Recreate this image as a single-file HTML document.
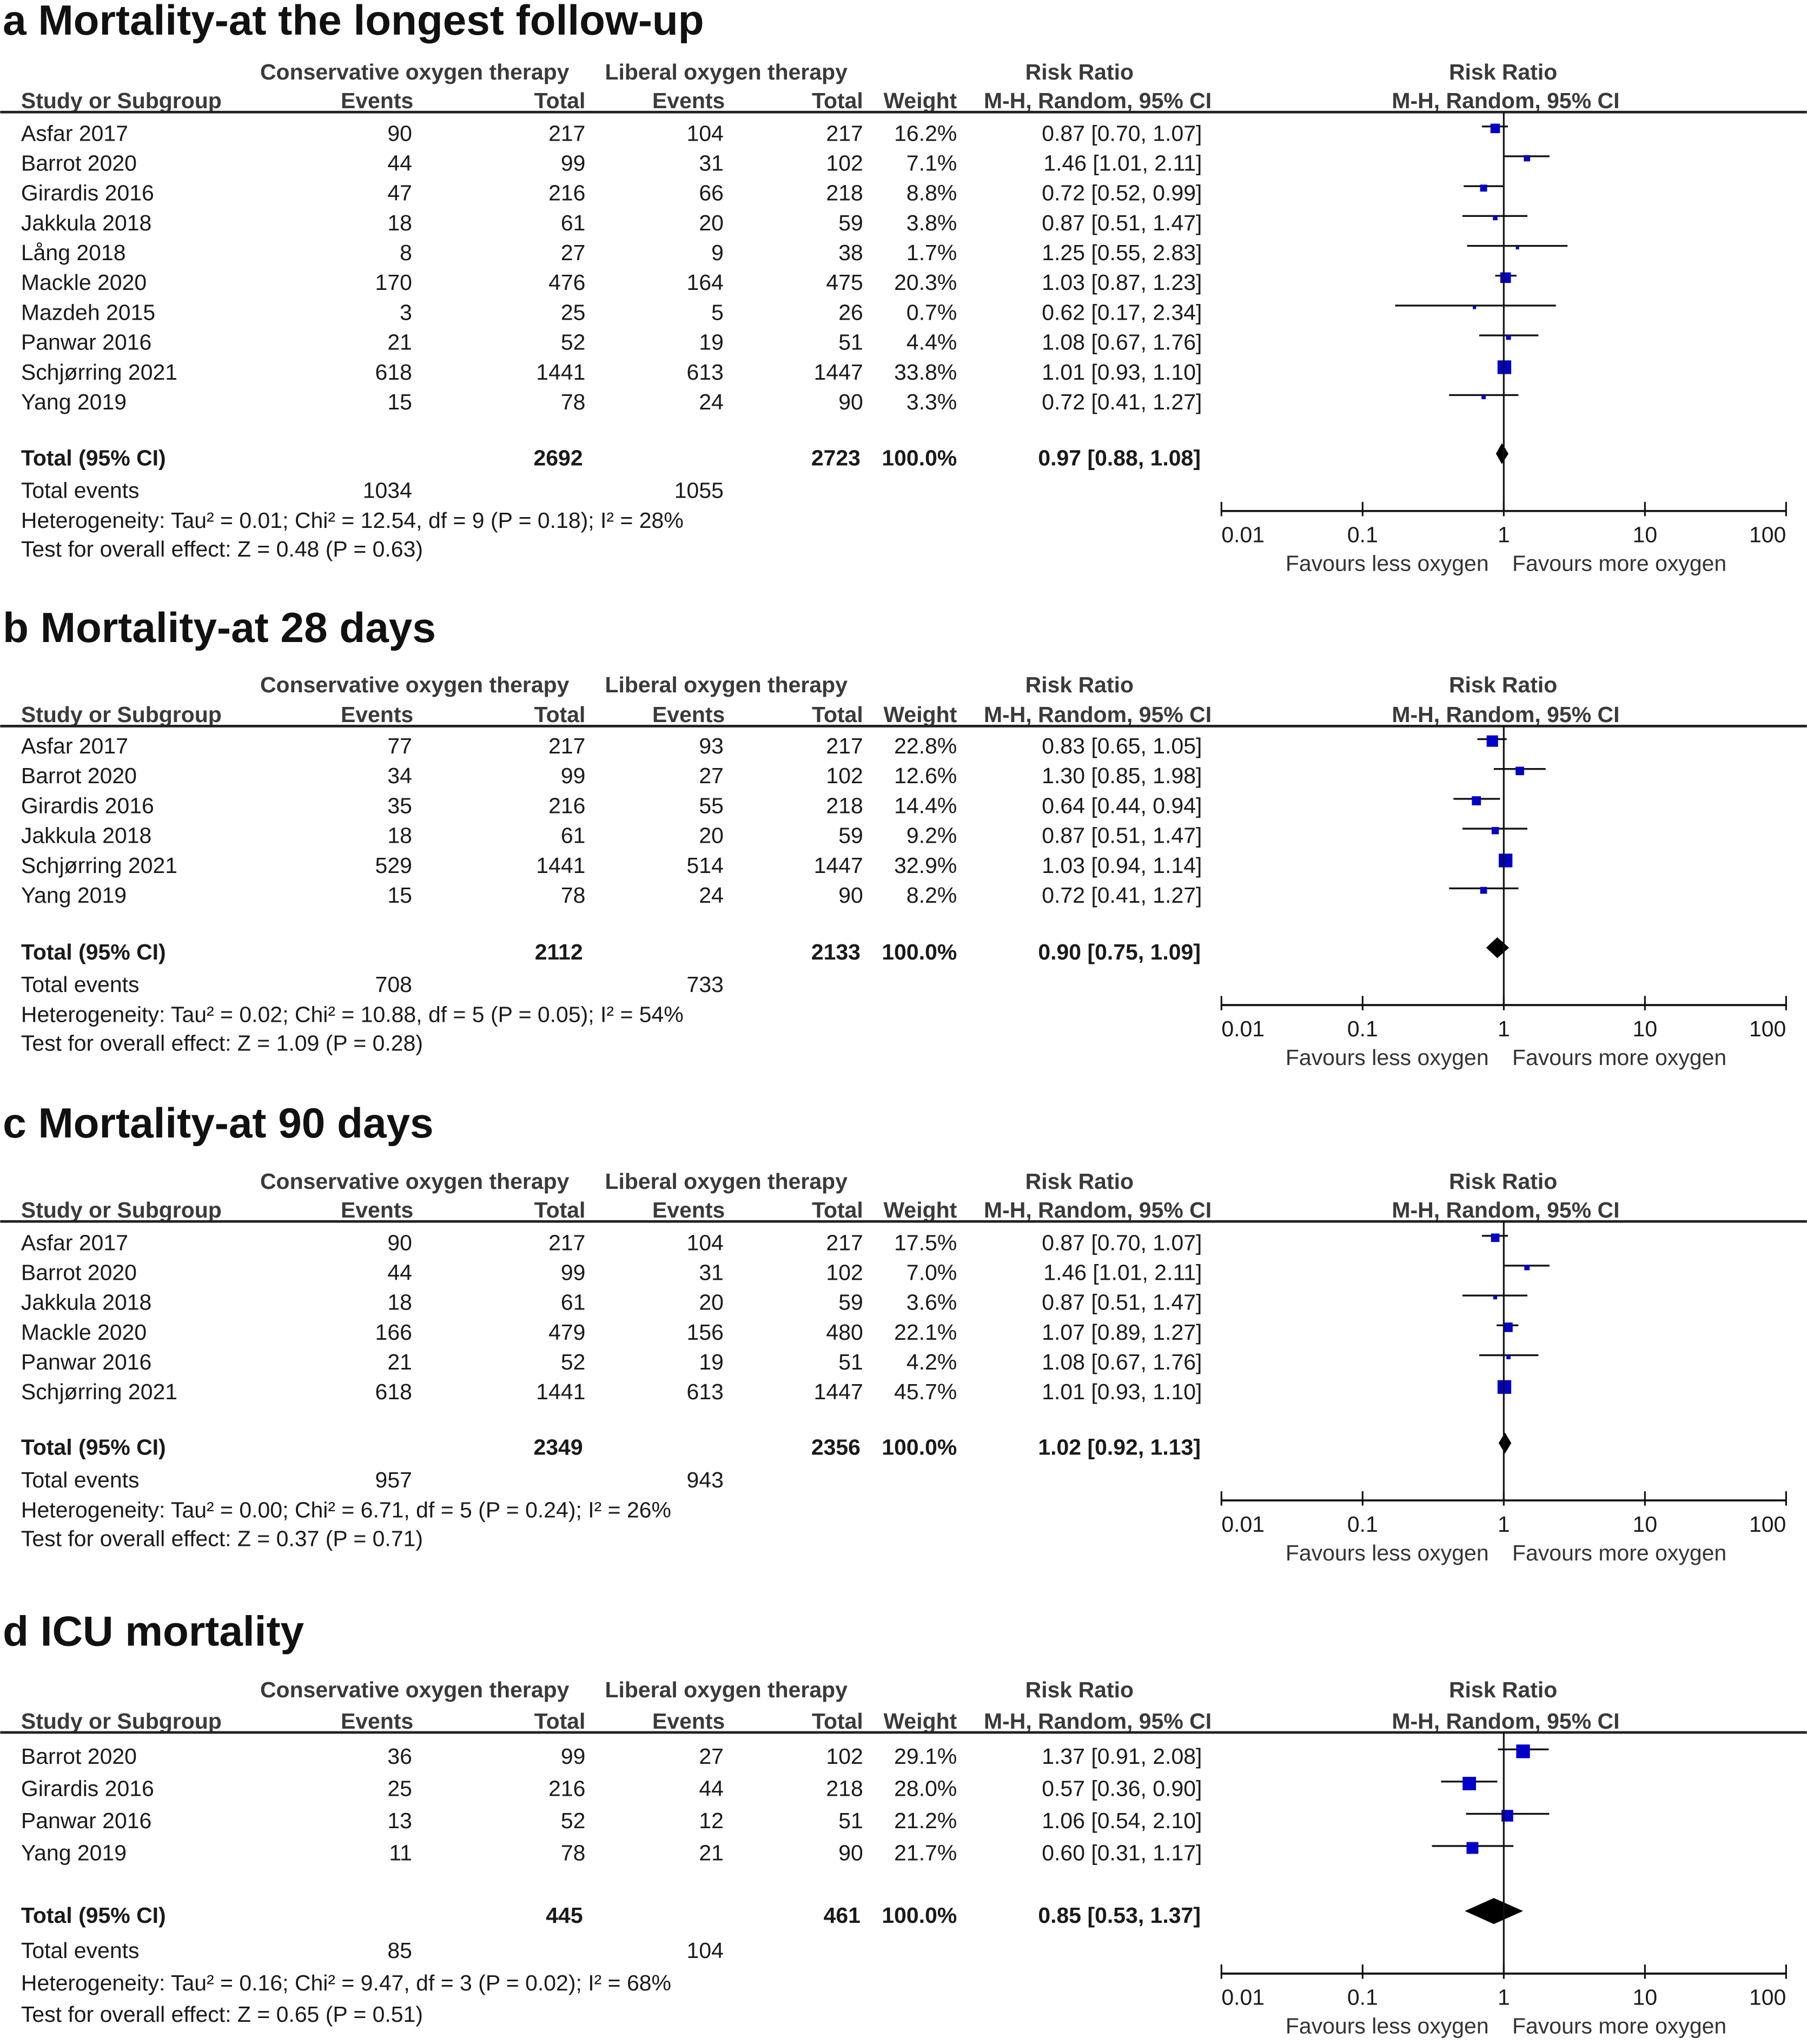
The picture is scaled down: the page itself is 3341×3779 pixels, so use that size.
<!DOCTYPE html>
<html><head><meta charset="utf-8"><style>
html,body{margin:0;padding:0;background:#fff;}
svg{display:block;font-family:"Liberation Sans",Arial,sans-serif;}
</style></head><body>
<svg id="chart" xmlns="http://www.w3.org/2000/svg" width="3341" height="3779" viewBox="0 0 1386 1568"></svg>
<script>
// ---- Panel a data ----
const aStudies=["Asfar 2017","Barrot 2020","Girardis 2016","Jakkula 2018","Lång 2018","Mackle 2020","Mazdeh 2015","Panwar 2016","Schjørring 2021","Yang 2019"];
const aConsEvents=[90,44,47,18,8,170,3,21,618,15];
const aConsTotal=[217,99,216,61,27,476,25,52,1441,78];
const aLibEvents=[104,31,66,20,9,164,5,19,613,24];
const aLibTotal=[217,102,218,59,38,475,26,51,1447,90];
const aWeight=[16.2,7.1,8.8,3.8,1.7,20.3,0.7,4.4,33.8,3.3];
const aRR=[0.87,1.46,0.72,0.87,1.25,1.03,0.62,1.08,1.01,0.72];
const aLo=[0.70,1.01,0.52,0.51,0.55,0.87,0.17,0.67,0.93,0.41];
const aHi=[1.07,2.11,0.99,1.47,2.83,1.23,2.34,1.76,1.10,1.27];
const aTotal=[2692,2723,0.97,0.88,1.08,1034,1055];
// ---- Panel b data ----
const bStudies=["Asfar 2017","Barrot 2020","Girardis 2016","Jakkula 2018","Schjørring 2021","Yang 2019"];
const bConsEvents=[77,34,35,18,529,15];
const bConsTotal=[217,99,216,61,1441,78];
const bLibEvents=[93,27,55,20,514,24];
const bLibTotal=[217,102,218,59,1447,90];
const bWeight=[22.8,12.6,14.4,9.2,32.9,8.2];
const bRR=[0.83,1.30,0.64,0.87,1.03,0.72];
const bLo=[0.65,0.85,0.44,0.51,0.94,0.41];
const bHi=[1.05,1.98,0.94,1.47,1.14,1.27];
const bTotal=[2112,2133,0.90,0.75,1.09,708,733];
// ---- Panel c data ----
const cStudies=["Asfar 2017","Barrot 2020","Jakkula 2018","Mackle 2020","Panwar 2016","Schjørring 2021"];
const cConsEvents=[90,44,18,166,21,618];
const cConsTotal=[217,99,61,479,52,1441];
const cLibEvents=[104,31,20,156,19,613];
const cLibTotal=[217,102,59,480,51,1447];
const cWeight=[17.5,7.0,3.6,22.1,4.2,45.7];
const cRR=[0.87,1.46,0.87,1.07,1.08,1.01];
const cLo=[0.70,1.01,0.51,0.89,0.67,0.93];
const cHi=[1.07,2.11,1.47,1.27,1.76,1.10];
const cTotal=[2349,2356,1.02,0.92,1.13,957,943];
// ---- Panel d data ----
const dStudies=["Barrot 2020","Girardis 2016","Panwar 2016","Yang 2019"];
const dConsEvents=[36,25,13,11];
const dConsTotal=[99,216,52,78];
const dLibEvents=[27,44,12,21];
const dLibTotal=[102,218,51,90];
const dWeight=[29.1,28.0,21.2,21.7];
const dRR=[1.37,0.57,1.06,0.60];
const dLo=[0.91,0.36,0.54,0.31];
const dHi=[2.08,0.90,2.10,1.17];
const dTotal=[445,461,0.85,0.53,1.37,85,104];
const aTitle="a Mortality-at the longest follow-up";
const bTitle="b Mortality-at 28 days";
const cTitle="c Mortality-at 90 days";
const dTitle="d ICU mortality";
const aHet="Heterogeneity: Tau² = 0.01; Chi² = 12.54, df = 9 (P = 0.18); I² = 28%";
const bHet="Heterogeneity: Tau² = 0.02; Chi² = 10.88, df = 5 (P = 0.05); I² = 54%";
const cHet="Heterogeneity: Tau² = 0.00; Chi² = 6.71, df = 5 (P = 0.24); I² = 26%";
const dHet="Heterogeneity: Tau² = 0.16; Chi² = 9.47, df = 3 (P = 0.02); I² = 68%";
const aTest="Test for overall effect: Z = 0.48 (P = 0.63)";
const bTest="Test for overall effect: Z = 1.09 (P = 0.28)";
const cTest="Test for overall effect: Z = 0.37 (P = 0.71)";
const dTest="Test for overall effect: Z = 0.65 (P = 0.51)";
const tickVals=[0.01,0.1,1,10,100];
const tickLabels=["0.01","0.1","1","10","100"];

const NS="http://www.w3.org/2000/svg";
const svg=document.getElementById('chart');
function xs(v){return 1153.5+108.3*Math.log10(v);}
function mk(tag,attrs,parent){const e=document.createElementNS(NS,tag);for(const k in attrs)e.setAttribute(k,attrs[k]);(parent||svg).appendChild(e);return e;}
function txt(g,x,y,s,anchor,bold,size,fill){const t=mk('text',{x:x,y:y+6,'text-anchor':anchor||'start','font-size':size||17,'font-weight':bold?'bold':'normal',fill:fill||'#1a1a1a'},g);t.textContent=s;return t;}

const panels=[
 {id:'a',title:aTitle,het:aHet,test:aTest,st:aStudies,ce:aConsEvents,ct:aConsTotal,le:aLibEvents,lt:aLibTotal,w:aWeight,rr:aRR,lo:aLo,hi:aHi,tot:aTotal,ty:15,h1:55,h2:77,r0:102,sp:22.9,tY:351,teY:376,hY:399,xY:421},
 {id:'b',title:bTitle,het:bHet,test:bTest,st:bStudies,ce:bConsEvents,ct:bConsTotal,le:bLibEvents,lt:bLibTotal,w:bWeight,rr:bRR,lo:bLo,hi:bHi,tot:bTotal,ty:481,h1:525,h2:548,r0:572,sp:22.9,tY:730,teY:755,hY:778,xY:800},
 {id:'c',title:cTitle,het:cHet,test:cTest,st:cStudies,ce:cConsEvents,ct:cConsTotal,le:cLibEvents,lt:cLibTotal,w:cWeight,rr:cRR,lo:cLo,hi:cHi,tot:cTotal,ty:861,h1:906,h2:928,r0:953,sp:22.9,tY:1110,teY:1135,hY:1158,xY:1180},
 {id:'d',title:dTitle,het:dHet,test:dTest,st:dStudies,ce:dConsEvents,ct:dConsTotal,le:dLibEvents,lt:dLibTotal,w:dWeight,rr:dRR,lo:dLo,hi:dHi,tot:dTotal,ty:1251,h1:1296,h2:1320,r0:1347,sp:24.7,tY:1469,teY:1496,hY:1521,xY:1545}
];
const f2=v=>v.toFixed(2);
panels.forEach(p=>{
 const g=mk('g',{});
 
 
 const tt=mk('text',{x:2,y:p.ty+11.5,'font-size':32.5,'font-weight':'bold',fill:'#111'},g);tt.textContent=p.title;
 
 
 const h1=p.h1, h2=p.h2;
 const hc='#3a3a3a';
 txt(g,318,h1,'Conservative oxygen therapy','middle',true,17,hc);
 txt(g,557,h1,'Liberal oxygen therapy','middle',true,17,hc);
 txt(g,828,h1,'Risk Ratio','middle',true,17,hc);
 txt(g,1153,h1,'Risk Ratio','middle',true,17,hc);
 txt(g,16,h2,'Study or Subgroup','start',true,17,hc);
 txt(g,317,h2,'Events','end',true,17,hc);
 txt(g,449,h2,'Total','end',true,17,hc);
 txt(g,556,h2,'Events','end',true,17,hc);
 txt(g,662,h2,'Total','end',true,17,hc);
 txt(g,734,h2,'Weight','end',true,17,hc);
 txt(g,842,h2,'M-H, Random, 95% CI','middle',true,17,hc);
 txt(g,1155,h2,'M-H, Random, 95% CI','middle',true,17,hc);
 const lineY=h2+9;
 const hl=mk('line',{x1:0,x2:1386,y1:lineY,y2:lineY,stroke:'#222','stroke-width':2},g);
 
 
 const maxW=Math.max(...p.w);
 p.st.forEach((s,i)=>{
  const y=p.r0+i*p.sp;
  const row=mk('g',{},g);
  
  
  txt(row,16,y,s);
  txt(row,316,y,String(p.ce[i]),'end');
  txt(row,449,y,String(p.ct[i]),'end');
  txt(row,555,y,String(p.le[i]),'end');
  txt(row,662,y,String(p.lt[i]),'end');
  txt(row,734,y,p.w[i].toFixed(1)+'%','end');
  txt(row,922,y,f2(p.rr[i])+' ['+f2(p.lo[i])+', '+f2(p.hi[i])+']','end');
  const cy=y-5;
  const ci=mk('line',{x1:xs(p.lo[i]),x2:xs(p.hi[i]),y1:cy,y2:cy,stroke:'#111','stroke-width':1.4},row);
  
  
  const sz=Math.max(2.5,10.5*Math.sqrt(p.w[i]/maxW));
  const sq=mk('rect',{x:xs(p.rr[i])-sz/2,y:cy+1.5-sz/2,width:sz,height:sz,fill:'#0000c8'},row);
  
  
 });
 const ty=p.tY;
 const t=p.tot;
 txt(g,16,ty,'Total (95% CI)','start',true);
 txt(g,447,ty,String(t[0]),'end',true);
 txt(g,660,ty,String(t[1]),'end',true);
 txt(g,734,ty,'100.0%','end',true);
 txt(g,921,ty,f2(t[2])+' ['+f2(t[3])+', '+f2(t[4])+']','end',true);
 const dy=ty-3, hh=(p.id==='d'?10:8);
 const dm=mk('polygon',{points:`${xs(t[3])},${dy} ${xs(t[2])},${dy-hh} ${xs(t[4])},${dy} ${xs(t[2])},${dy+hh}`,fill:'#000'},g);
 
 
 txt(g,16,p.teY,'Total events');
 txt(g,316,p.teY,String(t[5]),'end');
 txt(g,555,p.teY,String(t[6]),'end');
 txt(g,16,p.hY,p.het);
 txt(g,16,p.xY,p.test);
 const ay=p.hY-7;
 const vl=mk('line',{x1:xs(1),x2:xs(1),y1:lineY,y2:ay,stroke:'#111','stroke-width':1.3},g);
 
 
 const ax=mk('line',{x1:xs(0.01),x2:xs(100),y1:ay,y2:ay,stroke:'#111','stroke-width':1.6},g);
 
 
 tickVals.forEach((v,k)=>{
  const tk=mk('line',{x1:xs(v),x2:xs(v),y1:ay-7,y2:ay+4,stroke:'#111','stroke-width':1.3},g);
  
  
  const anc=k===0?'start':(k===tickVals.length-1?'end':'middle');
  txt(g,xs(v),ay+18,tickLabels[k],anc);
 });
 txt(g,1142,ay+40,'Favours less oxygen','end',false,17,'#333');
 txt(g,1160,ay+40,'Favours more oxygen','start',false,17,'#333');
});
</script>
</body></html>
